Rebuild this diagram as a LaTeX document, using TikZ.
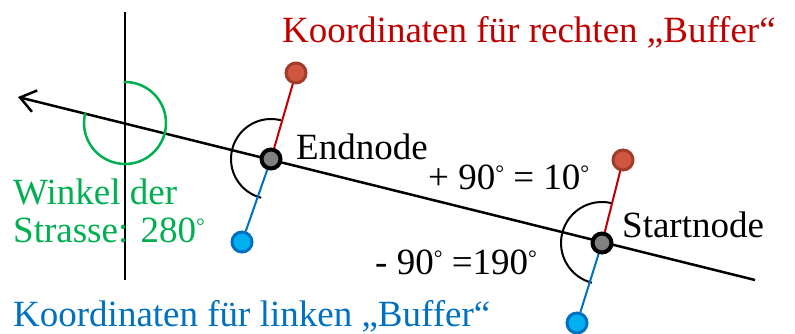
\documentclass[tikz,border=0pt]{standalone}
\usepackage{fontspec}
\setmainfont{Liberation Serif}
\usepackage{xcolor}
\usepackage{tikz}
\usetikzlibrary{positioning, arrows.meta}

\definecolor{bufred}{HTML}{C00000}
\definecolor{bufblue}{HTML}{0070C0}
\definecolor{angreen}{HTML}{00B050}
\definecolor{dotred}{HTML}{D0573F}
\definecolor{dotredrim}{HTML}{A33B2C}
\definecolor{dotblue}{HTML}{00B0F0}

\newcommand{\grad}{\raisebox{0.25em}{\fontsize{22}{22}\selectfont °}}

\begin{document}
\begin{tikzpicture}[
    x=1pt, y=1pt,
    knot/.style={circle, draw=black, fill=gray, line width=4pt, minimum size=19pt, inner sep=0pt},
    rdot/.style={circle, draw=dotredrim, fill=dotred, line width=3pt, minimum size=20pt, inner sep=0pt},
    bdot/.style={circle, draw=bufblue, fill=dotblue, line width=3pt, minimum size=20pt, inner sep=0pt},
    lbl/.style={anchor=base west, inner sep=0pt, font=\fontsize{37}{38}\selectfont},
    arr/.style={-{Straight Barb[length=15pt, width=22pt]}, line width=2.5pt},
    turn/.style={line width=2pt}
]
    \useasboundingbox (0,0) rectangle (795,334);

    % road and north axis
    \coordinate (roadtail) at (755,54);
    \coordinate (roadtip) at (18,237);
    \coordinate (ntop) at (125,322);
    \coordinate (nbot) at (125,54);
    \coordinate (cross) at (125,211);
    \draw[line width=2.5pt] (ntop) -- (nbot);
    \draw[arr] (roadtail) -- (roadtip);

    % angle of the road
    \draw[angreen, line width=2.5pt] ([shift={(92:41)}]cross) arc[start angle=92, end angle=-194.2, radius=41];

    % nodes and buffer points
    \node[knot] (end) at (271,175) {};
    \node[knot] (start) at (602,91) {};
    \node[rdot] (rend) at (296,261) {};
    \node[bdot] (lend) at (242,92) {};
    \node[rdot] (rstart) at (623,174) {};
    \node[bdot] (lstart) at (577,11) {};

    \draw[turn] ([shift={(75.8:40)}]end.center) arc[start angle=75.8, end angle=255.8, radius=40];
    \draw[turn] ([shift={(75.8:41)}]start.center) arc[start angle=75.8, end angle=255.8, radius=41];

    \draw[bufred, line width=2pt] (end) -- (rend);
    \draw[bufblue, line width=2pt] (end) -- (lend);
    \draw[bufred, line width=2pt] (start) -- (rstart);
    \draw[bufblue, line width=2pt] (start) -- (lstart);

    % labels
    \node[lbl, text=bufred] (rtitle) at (282,291) {Koordinaten für rechten „Buffer“};
    \node[lbl] (endlbl) at (296,174) {Endnode};
    \node[lbl] (plus) at (428,144) {+ 90\grad{} = 10\grad};
    \node[lbl] (startlbl) at (622,96) {Startnode};
    \node[lbl] (minus) at (375,59) {- 90\grad{} =190\grad};
    \node[lbl, text=angreen, align=left] (winkel) at (13,91) {Winkel der\\Strasse: 280\grad};
    \node[lbl, text=bufblue] (ltitle) at (13,7) {Koordinaten für linken „Buffer“};
\end{tikzpicture}
\end{document}
